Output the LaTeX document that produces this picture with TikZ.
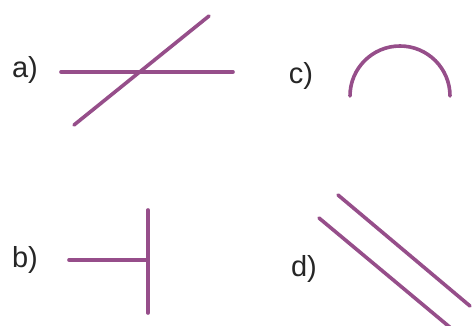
\documentclass[tikz,border=0pt]{standalone}
\usepackage{fontspec}
\setmainfont{Liberation Sans}
\definecolor{lineviolet}{RGB}{150,78,138}
\begin{document}
\begin{tikzpicture}[x=1pt,y=-1pt,
  seg/.style={draw=lineviolet,line width=3.6pt,line cap=round},
  lbl/.style={inner sep=0pt,font=\fontsize{29}{34}\selectfont,text=black!85}]
\useasboundingbox[fill=white] (0,0) rectangle (472,326);
% labels
\node[lbl] (la) at (25,70) {a)};
\node[lbl] (lb) at (25,260) {b)};
\node[lbl] (lc) at (301,76) {c)};
\node[lbl] (ld) at (304,269) {d)};
% a)
\draw[seg] (61,72) -- (233,72);
\draw[seg] (74,125) -- (209,16);
% c)
\draw[seg] (350,96) arc[start angle=180,end angle=360,radius=50];
% b)
\draw[seg] (69,260) -- (148,260);
\draw[seg] (148,210) -- (148,313);
% d)
\draw[seg] (319,218) -- (452,329);
\draw[seg] (338,195) -- (470,306);
\end{tikzpicture}
\end{document}
